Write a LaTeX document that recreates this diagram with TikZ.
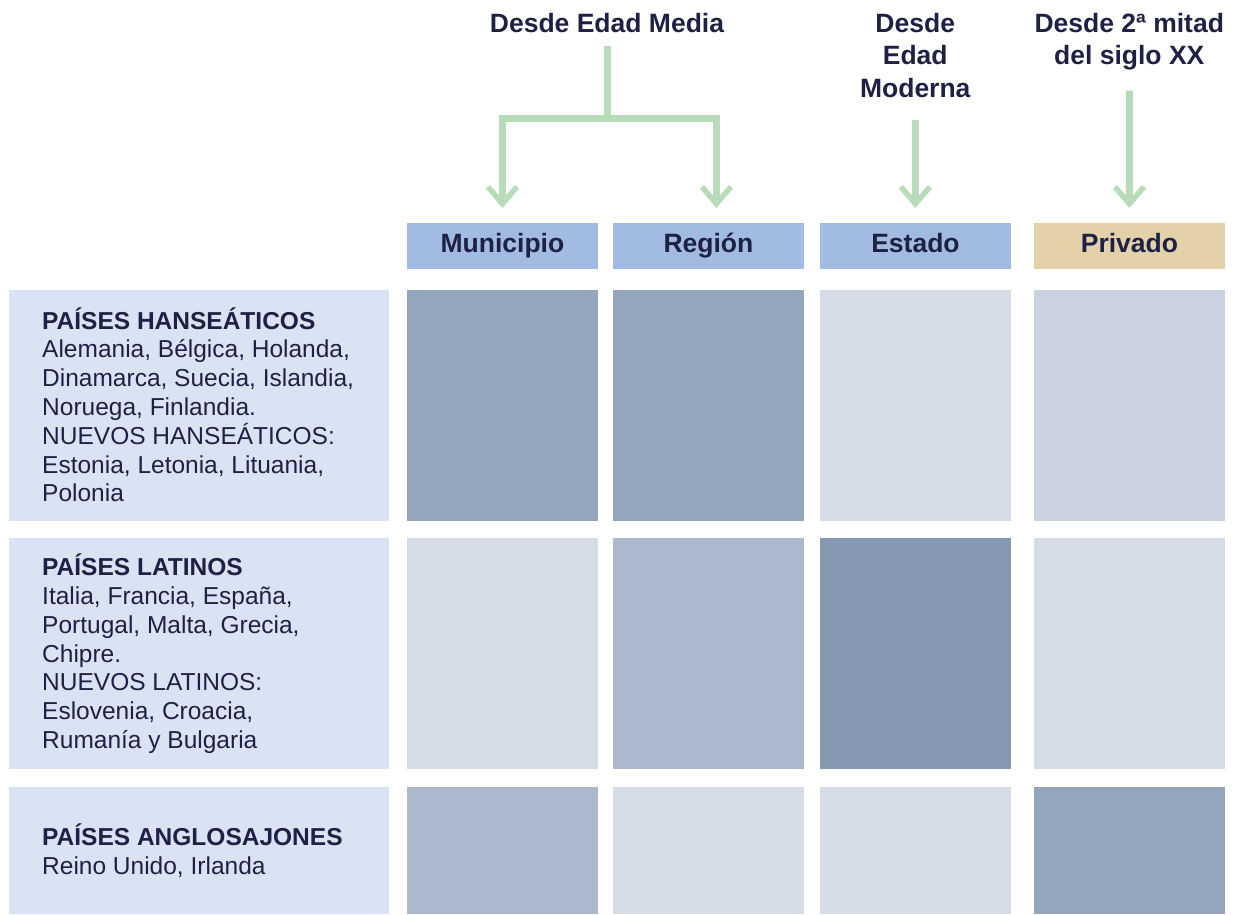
\documentclass[tikz,border=0pt]{standalone}
\usepackage{fontspec}
\setmainfont{Liberation Sans}
\usetikzlibrary{arrows.meta}

\definecolor{tinta}{RGB}{30,33,68}
\definecolor{verde}{RGB}{184,220,186}
\definecolor{azulcab}{RGB}{162,187,226}
\definecolor{ocre}{RGB}{227,209,170}
\definecolor{fondo}{RGB}{218,227,244}
\definecolor{gfuerte}{RGB}{149,165,188}
\definecolor{gmax}{RGB}{133,151,177}
\definecolor{gmedio}{RGB}{172,184,203}
\definecolor{gclaro}{RGB}{213,220,231}
\definecolor{gclarob}{RGB}{203,210,223}

\begin{document}
\begin{tikzpicture}[x=1pt,y=-1pt,
  cab/.style={rectangle, inner sep=0, minimum width=190.5pt, minimum height=46pt, text height=19pt, text depth=6pt, anchor=north west, text=tinta, font=\fontsize{26.5}{32}\selectfont\bfseries},
  celda/.style={rectangle, inner sep=0, minimum width=190.5pt, anchor=north west},
  caja/.style={rectangle, inner sep=0, fill=fondo, minimum width=380pt, anchor=north west},
  pais/.style={inner sep=0, anchor=west, align=left, text=tinta, font=\fontsize{24.5}{28.8}\selectfont},
  epoca/.style={inner sep=0, anchor=north, align=center, text=tinta, font=\fontsize{26.5}{32.5}\selectfont\bfseries},
  flecha/.style={draw=verde, line width=7pt, -{Straight Barb[length=17pt,width=29pt,line width=5.5pt]}, shorten >=15pt}]
\useasboundingbox (0,0) rectangle (1233,914);

% encabezados de columna
\node[cab, fill=azulcab] (mun) at (407,223) {Municipio};
\node[cab, fill=azulcab] (reg) at (613,223) {Región};
\node[cab, fill=azulcab] (est) at (820,223) {Estado};
\node[cab, fill=ocre] (priv) at (1034,223) {Privado};

% epocas
\node[epoca] (media) at (607,13) {Desde Edad Media};
\node[epoca] (moderna) at (915.25,13) {Desde\\Edad\\Moderna};
\node[epoca] (siglo) at (1129.25,13) {Desde 2ª mitad\\del siglo XX};

\draw[flecha, shorten <=13pt] (media.south) -- ++(0,86) coordinate (bar) -| (mun.north);
\draw[flecha] (bar) -| ([xshift=8pt]reg.north);
\draw[flecha, shorten <=22pt] (moderna.south) -- (est.north);
\draw[flecha, shorten <=20pt] (siglo.south) -- (priv.north);

% filas
\node[caja, minimum height=231pt] (hans) at (9,290) {};
\node[pais] (thans) at ([xshift=33pt,yshift=1pt]hans.west) {\textbf{PAÍSES HANSEÁTICOS}\\Alemania, Bélgica, Holanda,\\Dinamarca, Suecia, Islandia,\\Noruega, Finlandia.\\NUEVOS HANSEÁTICOS:\\Estonia, Letonia, Lituania,\\Polonia};
\foreach \x/\c [count=\i] in {407/gfuerte,613/gfuerte,820/gclaro,1034/gclarob}
  \node[celda, fill=\c, minimum height=231pt] (a\i) at (\x,290) {};

\node[caja, minimum height=231pt] (lat) at (9,538) {};
\node[pais] (tlat) at ([xshift=33pt]lat.west) {\textbf{PAÍSES LATINOS}\\Italia, Francia, España,\\Portugal, Malta, Grecia,\\Chipre.\\NUEVOS LATINOS:\\Eslovenia, Croacia,\\Rumanía y Bulgaria};
\foreach \x/\c [count=\i] in {407/gclaro,613/gmedio,820/gmax,1034/gclaro}
  \node[celda, fill=\c, minimum height=231pt] (b\i) at (\x,538) {};

\node[caja, minimum height=127pt] (ang) at (9,787) {};
\node[pais] (tang) at ([xshift=33pt]ang.west) {\textbf{PAÍSES ANGLOSAJONES}\\Reino Unido, Irlanda};
\foreach \x/\c [count=\i] in {407/gmedio,613/gclaro,820/gclaro,1034/gfuerte}
  \node[celda, fill=\c, minimum height=127pt] (c\i) at (\x,787) {};
\end{tikzpicture}
\end{document}
